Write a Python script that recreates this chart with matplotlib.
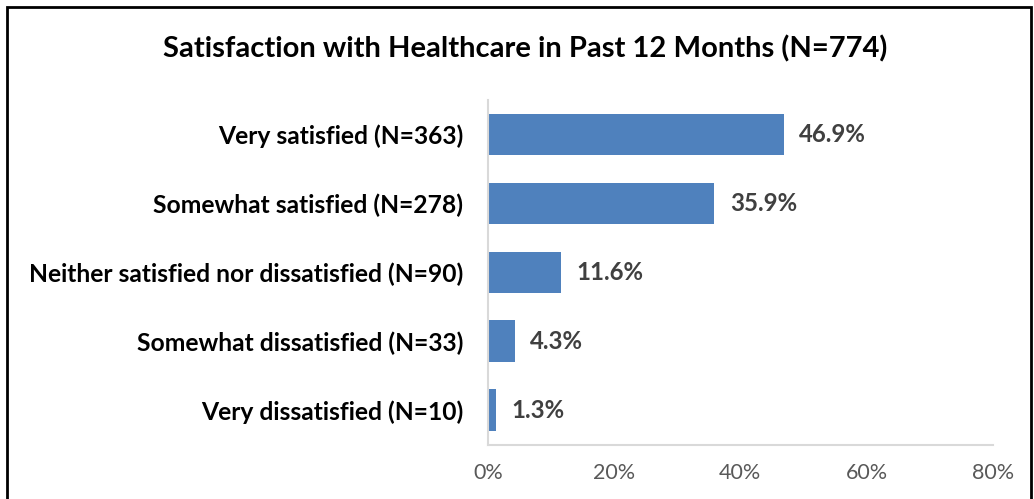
import matplotlib.pyplot as plt
from matplotlib.patches import Rectangle

categories = ["Very satisfied (N=363)", "Somewhat satisfied (N=278)",
              "Neither satisfied nor dissatisfied (N=90)",
              "Somewhat dissatisfied (N=33)", "Very dissatisfied (N=10)"]
percents = [46.9, 35.9, 11.6, 4.3, 1.3]
xticks = [0, 20, 40, 60, 80]

plt.rcParams['font.family'] = ['Lato', 'DejaVu Sans']

fig = plt.figure(figsize=(10.34, 4.99), dpi=100)
ax = fig.add_axes([0.472, 0.109, 0.488, 0.691])

y = list(range(len(categories)))
ax.barh(y, percents, height=0.6, color='#4F81BD')
ax.set_ylim(len(categories) - 0.5, -0.5)
ax.set_xlim(0, 80)

for yi, p in zip(y, percents):
    ax.annotate(f"{p:.1f}%", (p, yi), xytext=(11, 0), textcoords='offset points',
                ha='left', va='center', fontsize=17.3, fontweight='bold', color='#404040')

ax.set_yticks(y)
ax.set_yticklabels(categories, fontsize=17.7, fontweight='bold', color='black')
ax.set_xticks(xticks)
ax.set_xticklabels([f"{t}%" for t in xticks], fontsize=15.5, color='#595959')
ax.tick_params(length=0)
ax.tick_params(axis='y', pad=18)
ax.tick_params(axis='x', pad=13)

for s in ['top', 'right']:
    ax.spines[s].set_visible(False)
for s in ['left', 'bottom']:
    ax.spines[s].set_color('#D9D9D9')
    ax.spines[s].set_linewidth(1.5)

fig.text(0.508, 0.903, "Satisfaction with Healthcare in Past 12 Months (N=774)",
         ha='center', va='center', fontsize=21, fontweight='bold')

fig.patches.append(Rectangle((7 / 1034, -0.05), 1024 / 1034, 1.05 - 7 / 499,
                             transform=fig.transFigure, fill=False,
                             edgecolor='black', linewidth=2))

fig.savefig("out.png", dpi=100)
